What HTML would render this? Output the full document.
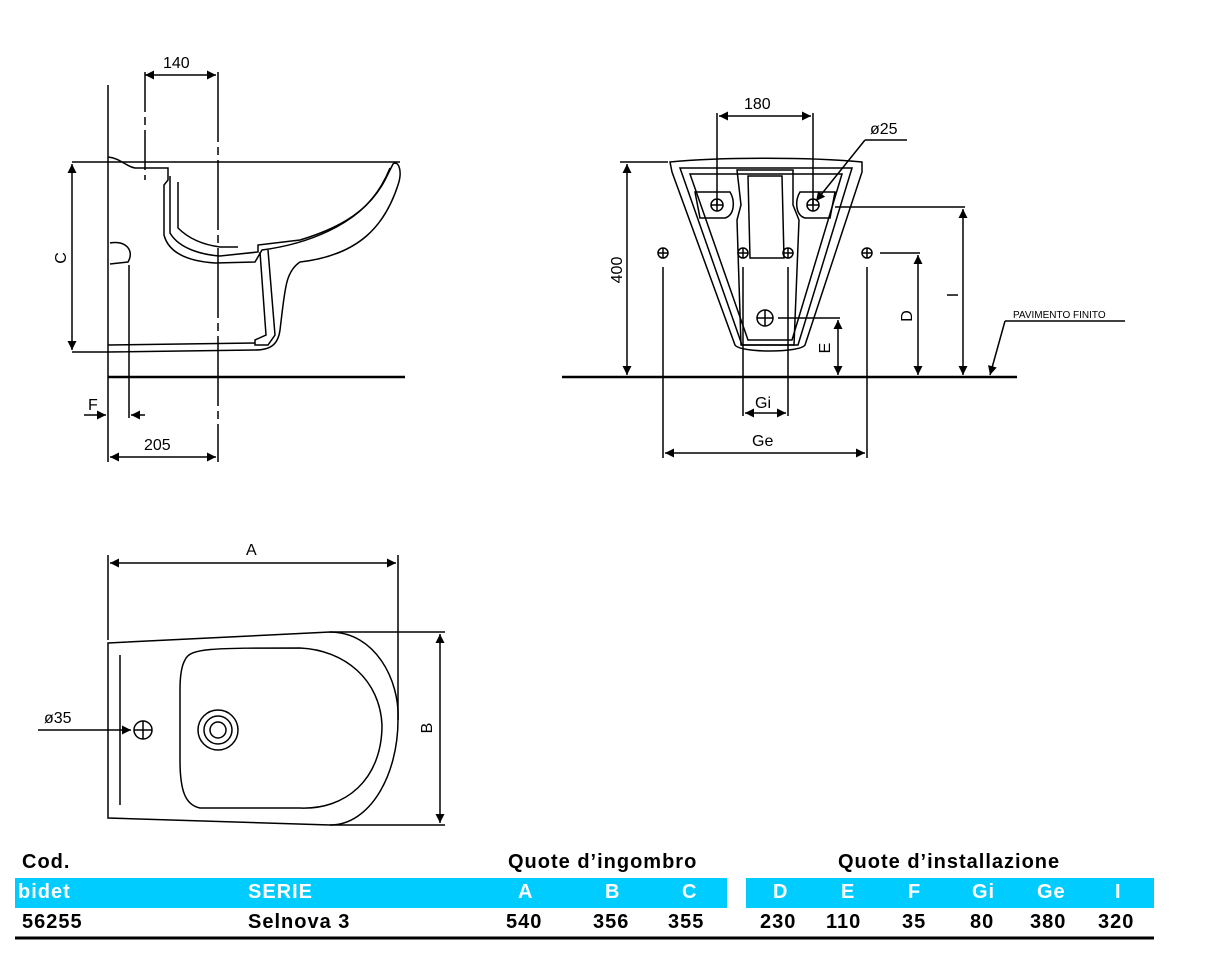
<!DOCTYPE html>
<html><head><meta charset="utf-8"><style>
body{margin:0;background:#fff;width:1211px;height:970px;overflow:hidden;position:relative;font-family:"Liberation Sans",sans-serif}
svg{position:absolute;left:0;top:0}
.t{position:absolute;font-weight:bold;font-size:20px;white-space:nowrap;letter-spacing:1px}
.w{color:#fff}
</style></head><body>
<svg width="1211" height="970" viewBox="0 0 1211 970" fill="none" stroke="#000" stroke-width="1.5">
<defs><marker id="a" viewBox="0 0 10 10" refX="10" refY="5" markerWidth="14" markerHeight="9" orient="auto-start-reverse" markerUnits="userSpaceOnUse"><path d="M0,0L10,5L0,10z" fill="#000" stroke="none"/></marker></defs>
<g font-family="Liberation Sans" font-size="16" fill="#000" stroke="none">
<text x="163" y="68">140</text><text x="144" y="450">205</text><text x="88" y="410">F</text>
<text transform="translate(66,258) rotate(-90)" text-anchor="middle">C</text>
<text x="744" y="109">180</text><text x="870" y="134">ø25</text>
<text transform="translate(622,270) rotate(-90)" text-anchor="middle">400</text>
<text transform="translate(912,316) rotate(-90)" text-anchor="middle">D</text>
<text transform="translate(830,348) rotate(-90)" text-anchor="middle">E</text>
<text transform="translate(958,295) rotate(-90)" text-anchor="middle">I</text>
<text x="755" y="408">Gi</text><text x="752" y="446">Ge</text>
<text x="1013" y="318" font-size="10">PAVIMENTO FINITO</text>
<text x="246" y="555">A</text><text x="44" y="723">ø35</text>
<text transform="translate(432,728) rotate(-90)" text-anchor="middle">B</text>
</g>
<!-- side view -->
<line x1="108" y1="85" x2="108" y2="462"/>
<line x1="108" y1="377" x2="405" y2="377" stroke-width="2.5"/>
<line x1="72" y1="162" x2="400" y2="162"/>
<line x1="72" y1="352" x2="108" y2="352"/>
<line x1="72" y1="164" x2="72" y2="350" marker-start="url(#a)" marker-end="url(#a)"/>
<line x1="145" y1="75" x2="216" y2="75" marker-start="url(#a)" marker-end="url(#a)"/>
<line x1="145" y1="72" x2="145" y2="180" stroke-dasharray="40,5,8,5"/>
<line x1="218" y1="72" x2="218" y2="462" stroke-dasharray="70,5,8,5"/>
<line x1="110" y1="457" x2="216" y2="457" marker-start="url(#a)" marker-end="url(#a)"/>
<line x1="129" y1="265" x2="129" y2="418"/>
<line x1="84" y1="415" x2="106" y2="415" marker-end="url(#a)"/>
<line x1="145" y1="415" x2="131" y2="415" marker-end="url(#a)"/>
<path d="M108,157 C120,158 125,166 135,168 L160,168 L168,168 L168,180 L164,185 L164,235 C170,258 200,262 215,263 L255,262 L262,250 C300,245 360,228 385,180 L393,164 C398,160 403,170 398,185 C385,225 360,255 300,262 C285,272 285,290 280,330 C278,345 270,350 255,350 L108,352"/>
<path d="M170,176 L170,233 C180,250 205,255 220,256 L258,252 L258,245 L300,240 C350,225 375,205 390,168"/>
<path d="M178,182 L178,228 C190,240 205,245 220,247 L238,247"/>
<path d="M260,252 L266,335 L255,340 L255,345 L268,345 L275,335 L268,250"/>
<path d="M108,345 L255,343"/>
<path d="M110,243 C125,240 135,250 128,262 L110,264"/>
<!-- front view -->
<line x1="562" y1="377" x2="1017" y2="377" stroke-width="2.5"/>
<line x1="620" y1="162" x2="668" y2="162"/>
<line x1="627" y1="164" x2="627" y2="375" marker-start="url(#a)" marker-end="url(#a)"/>
<path d="M670,162 C720,157 810,157 862,162 L862,172 L805,345 C800,353 740,353 735,345 L672,172 Z"/>
<path d="M680,168 L852,168 L798,345 L742,345 Z"/>
<path d="M690,174 L842,174 L792,340 L748,340 Z"/>
<path d="M737,170 L793,170 L793,205 L799,220 L794,345 L741,345 L737,220 L741,205 Z"/>
<path d="M748,176 L782,176 L784,258 L750,258 Z"/>
<path d="M695,192 L730,192 C735,200 735,215 725,218 L700,218 Z"/>
<path d="M835,192 L800,192 C795,200 795,215 805,218 L830,218 Z"/>
<line x1="717" y1="113" x2="717" y2="205"/><line x1="813" y1="113" x2="813" y2="205"/>
<line x1="719" y1="116" x2="811" y2="116" marker-start="url(#a)" marker-end="url(#a)"/>
<line x1="907" y1="140" x2="865" y2="140"/><line x1="865" y1="140" x2="816" y2="201" marker-end="url(#a)"/>
<g>
<circle cx="717" cy="205" r="6"/><path d="M711,205h12M717,199v12"/>
<circle cx="813" cy="205" r="6"/><path d="M807,205h12M813,199v12"/>
<circle cx="663" cy="253" r="5"/><path d="M658,253h10M663,248v10"/>
<circle cx="743" cy="253" r="5"/><path d="M738,253h10M743,248v10"/>
<circle cx="788" cy="253" r="5"/><path d="M783,253h10M788,248v10"/>
<circle cx="867" cy="253" r="5"/><path d="M862,253h10M867,248v10"/>
<circle cx="765" cy="318" r="8"/><path d="M757,318h16M765,310v16"/>
</g>
<line x1="835" y1="207" x2="965" y2="207"/>
<line x1="963" y1="209" x2="963" y2="375" marker-start="url(#a)" marker-end="url(#a)"/>
<line x1="880" y1="253" x2="920" y2="253"/>
<line x1="918" y1="255" x2="918" y2="375" marker-start="url(#a)" marker-end="url(#a)"/>
<line x1="778" y1="318" x2="840" y2="318"/>
<line x1="838" y1="320" x2="838" y2="375" marker-start="url(#a)" marker-end="url(#a)"/>
<line x1="743" y1="267" x2="743" y2="416"/><line x1="788" y1="267" x2="788" y2="416"/>
<line x1="745" y1="413" x2="786" y2="413" marker-start="url(#a)" marker-end="url(#a)"/>
<line x1="663" y1="267" x2="663" y2="458"/><line x1="867" y1="267" x2="867" y2="458"/>
<line x1="665" y1="453" x2="865" y2="453" marker-start="url(#a)" marker-end="url(#a)"/>
<line x1="1125" y1="321" x2="1005" y2="321"/><line x1="1005" y1="321" x2="990" y2="375" marker-end="url(#a)"/>
<!-- top view -->
<line x1="108" y1="555" x2="108" y2="640"/><line x1="398" y1="555" x2="398" y2="720"/>
<line x1="110" y1="563" x2="396" y2="563" marker-start="url(#a)" marker-end="url(#a)"/>
<path d="M108,643 L330,632 C375,632 400,680 398,720 C398,775 370,825 330,825 L108,818 Z"/>
<path d="M185,660 C190,648 210,648 300,648 C345,650 380,680 382,725 C382,780 345,810 300,808 L200,808 C185,805 180,790 180,760 L180,690 C180,675 182,665 185,660 Z"/>
<line x1="120" y1="655" x2="120" y2="805"/>
<line x1="330" y1="632" x2="445" y2="632"/><line x1="330" y1="825" x2="445" y2="825"/>
<line x1="440" y1="634" x2="440" y2="823" marker-start="url(#a)" marker-end="url(#a)"/>
<circle cx="218" cy="730" r="20"/><circle cx="218" cy="730" r="14"/><circle cx="218" cy="730" r="8"/>
<circle cx="143" cy="730" r="9"/><path d="M134,730h18M143,721v18"/>
<line x1="38" y1="730" x2="131" y2="730" marker-end="url(#a)"/>
<!-- table -->
<rect x="15" y="878" width="712" height="30" fill="#00ccff" stroke="none"/>
<rect x="746" y="878" width="408" height="30" fill="#00ccff" stroke="none"/>
<line x1="15" y1="938" x2="1154" y2="938" stroke-width="3"/>
</svg>
<div class="t" style="left:22px;top:851px">Cod.</div>
<div class="t" style="left:508px;top:851px">Quote d’ingombro</div>
<div class="t" style="left:838px;top:851px">Quote d’installazione</div>
<div class="t w" style="left:18px;top:881px">bidet</div>
<div class="t w" style="left:248px;top:881px">SERIE</div>
<div class="t w" style="left:518px;top:881px">A</div>
<div class="t w" style="left:605px;top:881px">B</div>
<div class="t w" style="left:682px;top:881px">C</div>
<div class="t w" style="left:773px;top:881px">D</div>
<div class="t w" style="left:841px;top:881px">E</div>
<div class="t w" style="left:908px;top:881px">F</div>
<div class="t w" style="left:972px;top:881px">Gi</div>
<div class="t w" style="left:1037px;top:881px">Ge</div>
<div class="t w" style="left:1115px;top:881px">I</div>
<div class="t" style="left:22px;top:911px">56255</div>
<div class="t" style="left:248px;top:911px">Selnova 3</div>
<div class="t" style="left:506px;top:911px">540</div>
<div class="t" style="left:593px;top:911px">356</div>
<div class="t" style="left:668px;top:911px">355</div>
<div class="t" style="left:760px;top:911px">230</div>
<div class="t" style="left:826px;top:911px">110</div>
<div class="t" style="left:902px;top:911px">35</div>
<div class="t" style="left:970px;top:911px">80</div>
<div class="t" style="left:1030px;top:911px">380</div>
<div class="t" style="left:1098px;top:911px">320</div>
</body></html>
